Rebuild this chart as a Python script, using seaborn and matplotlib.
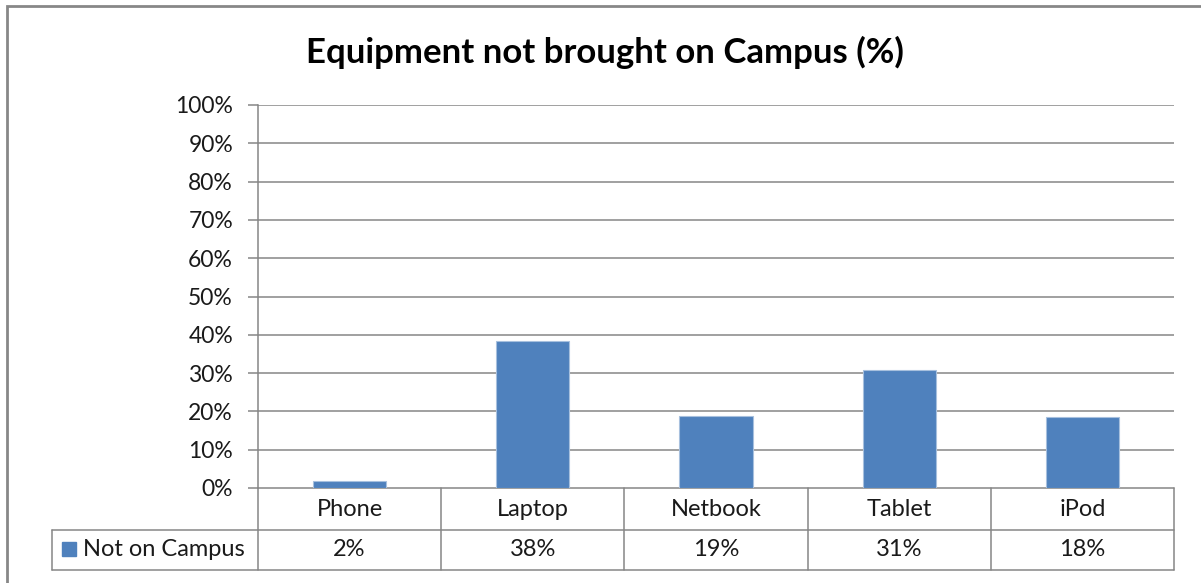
import numpy as np
import pandas as pd
import matplotlib
matplotlib.use("Agg")
import matplotlib.pyplot as plt
import seaborn as sns
from matplotlib.patches import Rectangle

categories = ["Phone", "Laptop", "Netbook", "Tablet", "iPod"]
values = [1.8, 38.4, 18.8, 30.8, 18.5]
table_labels = ["2%", "38%", "19%", "31%", "18%"]
series_name = "Not on Campus"
yticks = [0, 10, 20, 30, 40, 50, 60, 70, 80, 90, 100]

df = pd.DataFrame({"equipment": categories, "pct": values})

sns.set_style("white")
plt.rcParams["font.family"] = ["Lato", "DejaVu Sans"]

W, H = 1201, 583
fig = plt.figure(figsize=(W / 100, H / 100), dpi=100)
# plot area in pixels: x 258-1174, y 105-488
ax = fig.add_axes([258 / W, (H - 488) / H, (1174 - 258) / W, (488 - 105) / H])

bar_col = "#4F81BD"
grid_col = "#868686"
txt_col = "#1a1a1a"
fs = 17
sns.barplot(data=df, x="equipment", y="pct", color=bar_col, width=0.4,
            edgecolor="#A7C0DE", linewidth=0.8, saturation=1, ax=ax, zorder=3)

ax.set_xlim(-0.5, len(categories) - 0.5)
ax.set_ylim(0, 100)
ax.set_yticks(yticks)
ax.set_yticklabels([f"{t}%" for t in yticks], fontsize=16.5, color=txt_col)
ax.set_xticks([])
ax.set_xlabel("")
ax.set_ylabel("")
for y in yticks[1:]:
    ax.axhline(y, color=grid_col, lw=1.1, zorder=1)
for s in ["top", "right", "bottom"]:
    ax.spines[s].set_visible(False)
ax.spines["left"].set_color(grid_col)
ax.spines["left"].set_linewidth(1.1)
ax.tick_params(axis="y", length=7, width=1.1, color=grid_col, pad=11, left=True)

# data table under the plot
tr = ax.get_xaxis_transform()
h1 = -42 / 383
h2 = -82 / 383
xl = (52 - 258) / 916
lkw = dict(color=grid_col, lw=1.1, clip_on=False)
ax.plot([-0.5, len(categories) - 0.5], [0, 0], transform=tr, **lkw)
ax.plot([xl, 1], [h1, h1], transform=ax.transAxes, **lkw)
ax.plot([xl, 1], [h2, h2], transform=ax.transAxes, **lkw)
ax.plot([xl, xl], [h1, h2], transform=ax.transAxes, **lkw)
for i in range(len(categories) + 1):
    ax.plot([i - 0.5, i - 0.5], [0, h2], transform=tr, **lkw)
for i, (c, v) in enumerate(zip(categories, table_labels)):
    ax.text(i, h1 / 2, c, transform=tr, ha="center", va="center", fontsize=fs, color=txt_col)
    ax.text(i, (h1 + h2) / 2, v, transform=tr, ha="center", va="center", fontsize=fs, color=txt_col)

# legend key in the row label cell
fig.patches.append(Rectangle((62 / W, (H - 556) / H), 14 / W, 14 / H,
                             transform=fig.transFigure, color=bar_col))
fig.text(83 / W, (H - 550) / H, series_name, ha="left", va="center", fontsize=fs, color=txt_col)

fig.text(605 / W, (H - 52) / H, "Equipment not brought on Campus (%)", ha="center", va="center",
         fontsize=25, fontweight="bold", color="black")

# outer chart border
fig.patches.append(Rectangle((7 / W, -0.1), 1.2, (H - 6) / H + 0.1, transform=fig.transFigure,
                             fill=False, edgecolor="#878787", lw=2))

fig.savefig("out.png", dpi=100, facecolor="white")
